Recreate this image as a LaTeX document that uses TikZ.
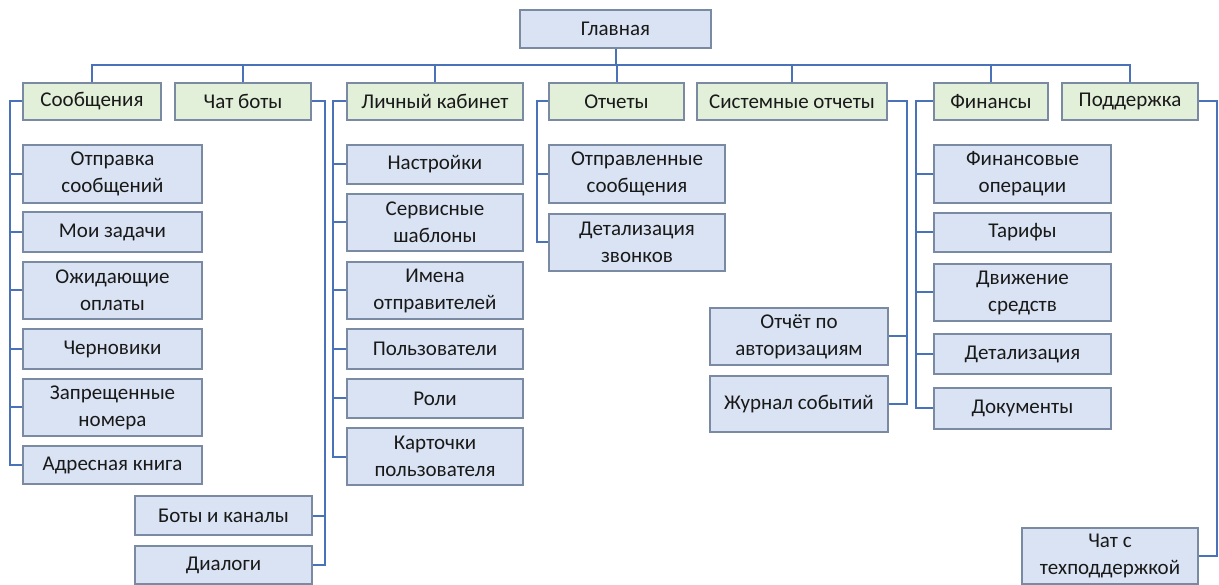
\documentclass[tikz,border=0pt]{standalone}
\usepackage{fontspec}
\setmainfont{Carlito}
\definecolor{gfill}{HTML}{E2EFD9}
\definecolor{bfill}{HTML}{DAE3F3}
\definecolor{bord}{HTML}{7A8AA3}
\definecolor{conn}{HTML}{4A72B8}
\begin{document}
\begin{tikzpicture}[x=1pt,y=-1pt,
  box/.style={draw=bord,line width=1.2pt,inner sep=0pt,align=center,
    font=\fontsize{21}{27}\selectfont,text=black!90},
  gbox/.style={box,fill=gfill},
  bbox/.style={box,fill=bfill},
  ln/.style={draw=conn,line width=2pt}]
\useasboundingbox (0,0) rectangle (1219,585);
% root
\node[bbox,minimum width=191,minimum height=38] (root) at (615.5,29) {Главная};
% level 1
\node[gbox,minimum width=138,minimum height=37] (soob) at (92,101.5) {Сообщения};
\node[gbox,minimum width=136,minimum height=37] (chat) at (243,101.5) {Чат боты};
\node[gbox,minimum width=176,minimum height=37] (lk) at (435,101.5) {Личный кабинет};
\node[gbox,minimum width=135,minimum height=37] (otch) at (616.5,101.5) {Отчеты};
\node[gbox,minimum width=190,minimum height=37] (sys) at (792,101.5) {Системные отчеты};
\node[gbox,minimum width=114,minimum height=37] (fin) at (991,101.5) {Финансы};
\node[gbox,minimum width=136,minimum height=37] (podd) at (1130,101.5) {Поддержка};
% Сообщения children
\node[bbox,minimum width=179,minimum height=58] (otpr) at (112.5,174) {Отправка\\сообщений};
\node[bbox,minimum width=179,minimum height=40] (moi) at (112.5,232) {Мои задачи};
\node[bbox,minimum width=179,minimum height=57] (ozh) at (112.5,290.5) {Ожидающие\\оплаты};
\node[bbox,minimum width=179,minimum height=40] (cher) at (112.5,349) {Черновики};
\node[bbox,minimum width=179,minimum height=57] (zapr) at (112.5,407.5) {Запрещенные\\номера};
\node[bbox,minimum width=179,minimum height=38] (adr) at (112.5,465) {Адресная книга};
% Чат боты children
\node[bbox,minimum width=177,minimum height=39] (boty) at (223.5,515.5) {Боты и каналы};
\node[bbox,minimum width=177,minimum height=38] (dial) at (223.5,565) {Диалоги};
% Личный кабинет children
\node[bbox,minimum width=176,minimum height=39] (nast) at (435,164.5) {Настройки};
\node[bbox,minimum width=176,minimum height=57] (serv) at (435,222.5) {Сервисные\\шаблоны};
\node[bbox,minimum width=176,minimum height=57] (imena) at (435,290.5) {Имена\\отправителей};
\node[bbox,minimum width=176,minimum height=40] (polz) at (435,349) {Пользователи};
\node[bbox,minimum width=176,minimum height=39] (roli) at (435,398.5) {Роли};
\node[bbox,minimum width=176,minimum height=57] (kart) at (435,456.5) {Карточки\\пользователя};
% Отчеты children
\node[bbox,minimum width=176,minimum height=58] (otps) at (637,174) {Отправленные\\сообщения};
\node[bbox,minimum width=176,minimum height=57] (detz) at (637,242.5) {Детализация\\звонков};
% Системные отчеты children
\node[bbox,minimum width=178,minimum height=57] (avt) at (799,336.5) {Отчёт по\\авторизациям};
\node[bbox,minimum width=178,minimum height=56] (zhur) at (799,404) {Журнал событий};
% Финансы children
\node[bbox,minimum width=177,minimum height=58] (finop) at (1022.5,174) {Финансовые\\операции};
\node[bbox,minimum width=177,minimum height=39] (tar) at (1022.5,232.5) {Тарифы};
\node[bbox,minimum width=177,minimum height=57] (dvizh) at (1022.5,292.5) {Движение\\средств};
\node[bbox,minimum width=177,minimum height=40] (detal) at (1022.5,354) {Детализация};
\node[bbox,minimum width=177,minimum height=41] (dok) at (1022.5,408.5) {Документы};
% Поддержка child
\node[bbox,minimum width=176,minimum height=56] (chts) at (1110,556) {Чат с\\техподдержкой};
% coordinates
\coordinate (bus) at (0,65);
\coordinate (s1) at (10,0);
\coordinate (s2) at (325,0);
\coordinate (s3) at (333,0);
\coordinate (s4) at (537,0);
\coordinate (s5) at (907,0);
\coordinate (s6) at (916,0);
\coordinate (s7) at (1217,0);
% bus
\draw[ln] (root.south) -- (root.south |- bus);
\draw[ln] (soob.north) -- (soob.north |- bus) -- (podd.north |- bus) -- (podd.north);
\foreach \n in {chat,lk,otch,sys,fin} \draw[ln] (\n.north) -- (\n.north |- bus);
% Сообщения
\draw[ln] (soob.west) -- (soob.west -| s1) -- (adr.west -| s1) -- (adr.west);
\foreach \n in {otpr,moi,ozh,cher,zapr} \draw[ln] (\n.west) -- (\n.west -| s1);
% Чат боты
\draw[ln] (chat.east) -- (chat.east -| s2) -- (dial.east -| s2) -- (dial.east);
\draw[ln] (boty.east) -- (boty.east -| s2);
% Личный кабинет
\draw[ln] (lk.west) -- (lk.west -| s3) -- (kart.west -| s3) -- (kart.west);
\foreach \n in {nast,serv,imena,polz,roli} \draw[ln] (\n.west) -- (\n.west -| s3);
% Отчеты
\draw[ln] (otch.west) -- (otch.west -| s4) -- (detz.west -| s4) -- (detz.west);
\draw[ln] (otps.west) -- (otps.west -| s4);
% Системные отчеты
\draw[ln] (sys.east) -- (sys.east -| s5) -- (zhur.east -| s5) -- (zhur.east);
\draw[ln] (avt.east) -- (avt.east -| s5);
% Финансы
\draw[ln] (fin.west) -- (fin.west -| s6) -- (dok.west -| s6) -- (dok.west);
\foreach \n in {finop,tar,dvizh,detal} \draw[ln] (\n.west) -- (\n.west -| s6);
% Поддержка
\draw[ln] (podd.east) -- (podd.east -| s7) -- (chts.east -| s7) -- (chts.east);
\end{tikzpicture}
\end{document}
